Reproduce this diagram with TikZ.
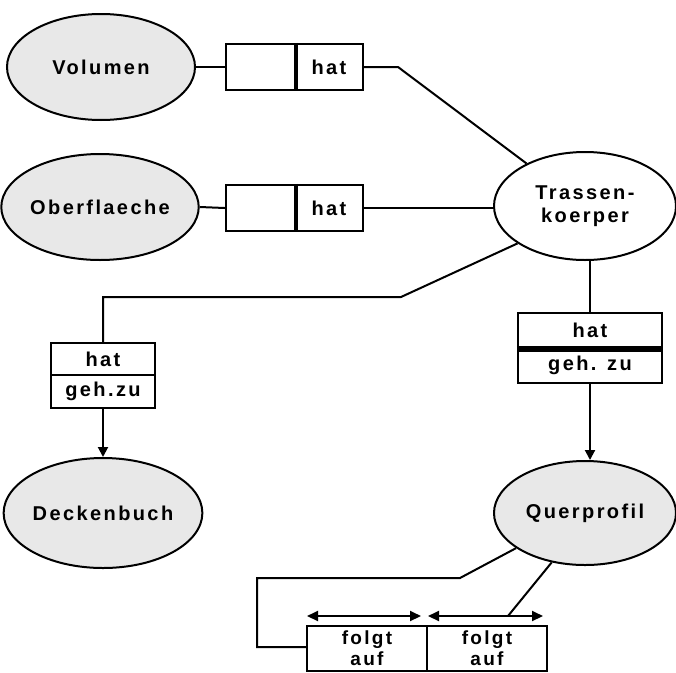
\documentclass[tikz,border=0pt]{standalone}
\usepackage{fontspec}
\setmainfont{Liberation Sans}[LetterSpace=12]
\usetikzlibrary{shapes.geometric,arrows.meta}
\begin{document}
\begin{tikzpicture}[x=1pt,y=-1pt,
  ent/.style={ellipse,draw,line width=2pt,fill=gray!18,inner sep=0pt,font=\fontsize{20}{23}\selectfont\bfseries,align=center},
  cell/.style={rectangle,draw,line width=2.4pt,inner sep=0pt,fill=white,font=\fontsize{20}{22}\selectfont\bfseries},
  conn/.style={line width=2pt},
  arr/.style={conn,-{Triangle[length=10pt,width=10pt]}},
  darr/.style={conn,{Triangle[length=11pt,width=10pt]}-{Triangle[length=11pt,width=10pt]}}]
\useasboundingbox[fill=white] (0,0) rectangle (676,672);
% entities
\node[ent,minimum width=188pt,minimum height=106pt] (vol) at (101,67) {Volumen};
\node[ent,minimum width=188pt,minimum height=106pt] (ob) at (100,207) {Oberflaeche};
\node[ent,fill=white,minimum width=182pt,minimum height=108pt] (tk) at (585,206) {Trassen-\\koerper};
\node[ent,minimum width=188pt,minimum height=110pt] (db) at (103,513) {Deckenbuch};
\node[ent,minimum width=182pt,minimum height=104pt] (qp) at (585,513) {Querprofil};
% top relation boxes
\node[cell,minimum width=69pt,minimum height=46pt] (b1l) at (260.5,67) {};
\node[cell,minimum width=68pt,minimum height=46pt] (b1r) at (329,67) {hat};
\draw[line width=4.5pt] (b1l.north east) -- (b1l.south east);
\node[cell,minimum width=69pt,minimum height=46pt] (b2l) at (260.5,208) {};
\node[cell,minimum width=68pt,minimum height=46pt] (b2r) at (329,208) {hat};
\draw[line width=4.5pt] (b2l.north east) -- (b2l.south east);
% left relation box
\node[cell,minimum width=104pt,minimum height=32pt] (hl) at (103,359) {hat};
\node[cell,minimum width=104pt,minimum height=33pt] (gl) at (103,391.5) {geh.zu};
% right relation box
\node[cell,minimum width=144pt,minimum height=35pt] (hr) at (590,330.5) {hat};
\node[cell,minimum width=144pt,minimum height=35pt] (gr) at (590,365.5) {geh. zu};
\draw[line width=5.5pt] (hr.south west) -- (hr.south east);
% bottom boxes
\node[cell,minimum width=120pt,minimum height=45pt,align=center,font=\fontsize{19}{21}\selectfont\bfseries] (fa) at (367,648.5) {folgt\\auf};
\node[cell,minimum width=120pt,minimum height=45pt,align=center,font=\fontsize{19}{21}\selectfont\bfseries] (fb) at (487,648.5) {folgt\\auf};
% helper coordinates
\coordinate (k1) at (398,67);
\coordinate (k2) at (401,297);
\coordinate (k3) at (103,297);
\coordinate (k4) at (460,578);
\coordinate (k5) at (257,578);
\coordinate (k6) at (257,647);
\coordinate (k7) at (508,616);
\coordinate (a1) at (307,616);
\coordinate (a2) at (421,616);
\coordinate (a3) at (428,616);
\coordinate (a4) at (543,616);
% connectors
\draw[conn] (vol.east) -- (b1l.west);
\draw[conn] (b1r.east) -- (k1) -- (tk.144);
\draw[conn] (ob.east) -- (b2l.west);
\draw[conn] (b2r.east) -- (tk.west |- b2r.east);
\draw[conn] (tk.209) -- (k2) -- (k3) -- (hl.north);
\draw[arr] (gl.south) -- (db.north);
\draw[conn] (hr.north) -- (hr.north |- tk.south);
\draw[arr] (gr.south) -- (gr.south |- qp.north);
\draw[conn] (qp.207) -- (k4) -- (k5) -- (k6) -- (fa.west |- k6);
\draw[conn] (qp.236) -- (k7);
\draw[darr] (a1) -- (a2);
\draw[darr] (a3) -- (a4);
\end{tikzpicture}
\end{document}
